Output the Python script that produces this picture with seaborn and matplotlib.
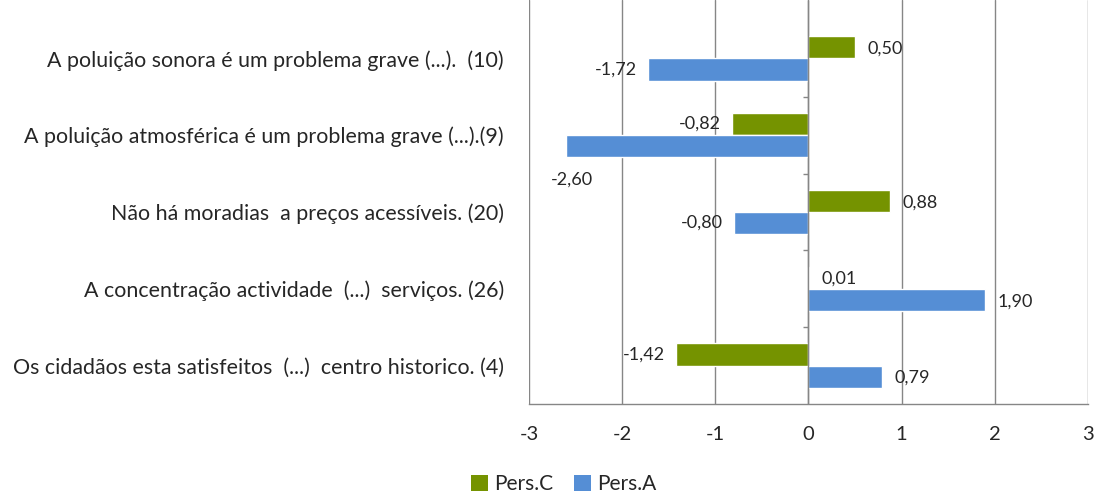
import numpy as np
import pandas as pd
import matplotlib
matplotlib.use("Agg")
import matplotlib.pyplot as plt
import seaborn as sns
from matplotlib.patches import Patch

# dados do gráfico
categorias = [
    "A poluição sonora é um problema grave (...).  (10)",
    "A poluição atmosférica é um problema grave (...).(9)",
    "Não há moradias  a preços acessíveis. (20)",
    "A concentração actividade  (...)  serviços. (26)",
    "Os cidadãos esta satisfeitos  (...)  centro historico. (4)",
]
pers_c = [0.50, -0.82, 0.88, 0.01, -1.42]
pers_a = [-1.72, -2.60, -0.80, 1.90, 0.79]
series = ["Pers.C", "Pers.A"]
cores = ["#759300", "#558ED5"]
xticks = [-3, -2, -1, 0, 1, 2, 3]

df = pd.DataFrame({
    "categoria": categorias * 2,
    "valor": pers_c + pers_a,
    "serie": [series[0]] * len(categorias) + [series[1]] * len(categorias),
})

sns.set_style("white")
plt.rcParams["font.family"] = ["Lato", "DejaVu Sans"]

fig = plt.figure(figsize=(10.95, 4.96), dpi=100)
ax = fig.add_axes([0.483, 0.1855, 0.5106, 0.8145])

sns.barplot(data=df, y="categoria", x="valor", hue="serie", hue_order=series,
            palette=cores, orient="h", width=0.58, saturation=1, ax=ax, legend=False)

n = len(categorias)
ax.set_xlim(-3, 3)
ax.set_ylim(n - 0.5, -0.5 - 20 / 77)
ax.set_xticks(xticks)
ax.set_xticklabels([str(t) for t in xticks], fontsize=14.5)
ax.set_ylabel("")
ax.set_xlabel("")
ax.tick_params(axis="y", length=0, labelsize=15.4, pad=18)
ax.tick_params(axis="x", length=6, width=1, color="#868686", direction="out", pad=10)
ax.grid(axis="x", color="#868686", linewidth=1)
ax.set_axisbelow(True)
for s in ["top", "right", "left"]:
    ax.spines[s].set_visible(False)
ax.spines["bottom"].set_color("#868686")
ax.spines["bottom"].set_linewidth(1)

# eixo vertical em zero com marcas entre categorias
ax.axvline(0, color="#868686", linewidth=1, zorder=1)
limites = np.arange(n) - 0.5
ax.hlines(limites[1:], -0.06, 0, color="#868686", linewidth=1, zorder=1)

# rótulos de dados
for cont in ax.containers:
    for barra in cont:
        v = barra.get_width()
        yc = barra.get_y() + barra.get_height() / 2
        txt = f"{v:.2f}".replace(".", ",")
        if v <= -2.5:
            ax.annotate(txt, (v, yc), xytext=(4, -24), textcoords="offset points",
                        ha="center", va="center", fontsize=13)
        elif v >= 0:
            ax.annotate(txt, (v, yc), xytext=(9, -1), textcoords="offset points",
                        ha="left", va="center", fontsize=13)
        else:
            ax.annotate(txt, (v, yc), xytext=(-8, 0), textcoords="offset points",
                        ha="right", va="center", fontsize=13)

handles = [Patch(facecolor=c, edgecolor="none") for c in cores]
fig.legend(handles, series, loc="center", bbox_to_anchor=(0.515, 0.024), ncol=2,
           frameon=False, fontsize=15, handlelength=0.8, handleheight=0.8,
           handletextpad=0.3, columnspacing=1.0)

fig.savefig("out.png", dpi=100)
